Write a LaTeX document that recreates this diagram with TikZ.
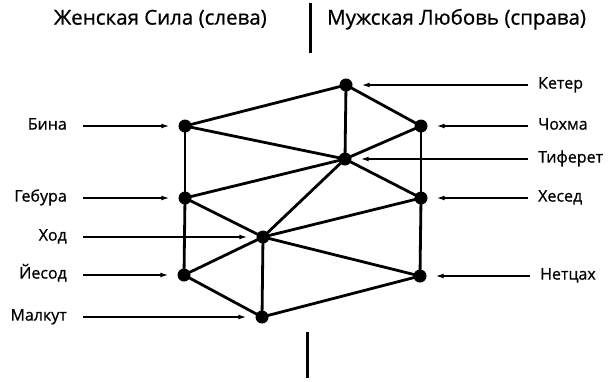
\documentclass[tikz,border=0pt]{standalone}
\usepackage{fontspec}
\setmainfont{Open Sans}
\newfontfamily\heavyfont{Open Sans}[FakeBold=0.8]
\usetikzlibrary{arrows.meta}

\tikzset{
  sefira/.style={circle,fill=black,inner sep=0pt,minimum size=13pt},
  channel/.style={line width=2.8pt,line cap=round},
  pointer/.style={-{Latex[length=8pt,width=5pt]},line width=1.4pt,shorten >=9pt},
  lname/.style={inner sep=0pt,text height=0.72em,text depth=0pt,
    font=\heavyfont\fontsize{16}{18}\selectfont},
  header/.style={inner sep=0pt,text height=0.72em,text depth=0pt,
    font=\heavyfont\fontsize{20.5}{23}\selectfont}
}

\begin{document}
\begin{tikzpicture}[x=1pt,y=-1pt]
  \useasboundingbox (0,0) rectangle (609,381);
  %
  % Header
  \node[header,anchor=east] (female) at (267,21) {Женская Сила (слева)};
  \node[header,anchor=west] (male) at (327,21) {Мужская Любовь (справа)};
  \draw[line width=3pt] (310,3) -- (310,53);
  \draw[line width=3pt] (307,332) -- (307,378);
  %
  % Sefirot
  \node[sefira] (keter)   at (346,85)  {};
  \node[sefira] (bina)    at (185,126) {};
  \node[sefira] (chokhma) at (421,126) {};
  \node[sefira] (tiferet) at (345,159) {};
  \node[sefira] (gevura)  at (185,198) {};
  \node[sefira] (hesed)   at (421,198) {};
  \node[sefira] (hod)     at (263,237) {};
  \node[sefira] (yesod)   at (184,275) {};
  \node[sefira] (netzah)  at (420,276) {};
  \node[sefira] (malkut)  at (262,317) {};
  %
  % Channels
  \foreach \a/\b in {keter/bina,keter/tiferet,keter/chokhma,
      bina/tiferet,bina/gevura,chokhma/tiferet,chokhma/hesed,
      tiferet/gevura,tiferet/hesed,tiferet/hod,
      gevura/hod,gevura/yesod,hesed/hod,hesed/netzah,
      hod/yesod,hod/netzah,hod/malkut,
      yesod/malkut,netzah/malkut}
    \draw[channel] (\a.center) -- (\b.center);
  %
  % Names, left side
  \node[lname,anchor=east] (lbina)   at (67,126) {Бина};
  \node[lname,anchor=east] (lgevura) at (67,198) {Гебура};
  \node[lname,anchor=east] (lhod)    at (67,237) {Ход};
  \node[lname,anchor=east] (lyesod)  at (67,275) {Йесод};
  \node[lname,anchor=east] (lmalkut) at (67,317) {Малкут};
  %
  % Names, right side
  \node[lname,anchor=west] (lketer)   at (538,85)  {Кетер};
  \node[lname,anchor=west] (lchokhma) at (538,126) {Чохма};
  \node[lname,anchor=west] (ltiferet) at (538,159) {Тиферет};
  \node[lname,anchor=west] (lhesed)   at (538,198) {Хесед};
  \node[lname,anchor=west] (lnetzah)  at (540,276) {Нетцах};
  %
  % Pointers
  \foreach \n in {bina,gevura,hod,yesod,malkut}
    \draw[pointer,shorten <=16pt] (l\n) -- (\n);
  \foreach \n in {keter,chokhma,tiferet,hesed,netzah}
    \draw[pointer,shorten <=10pt] (l\n) -- (\n);
\end{tikzpicture}
\end{document}
